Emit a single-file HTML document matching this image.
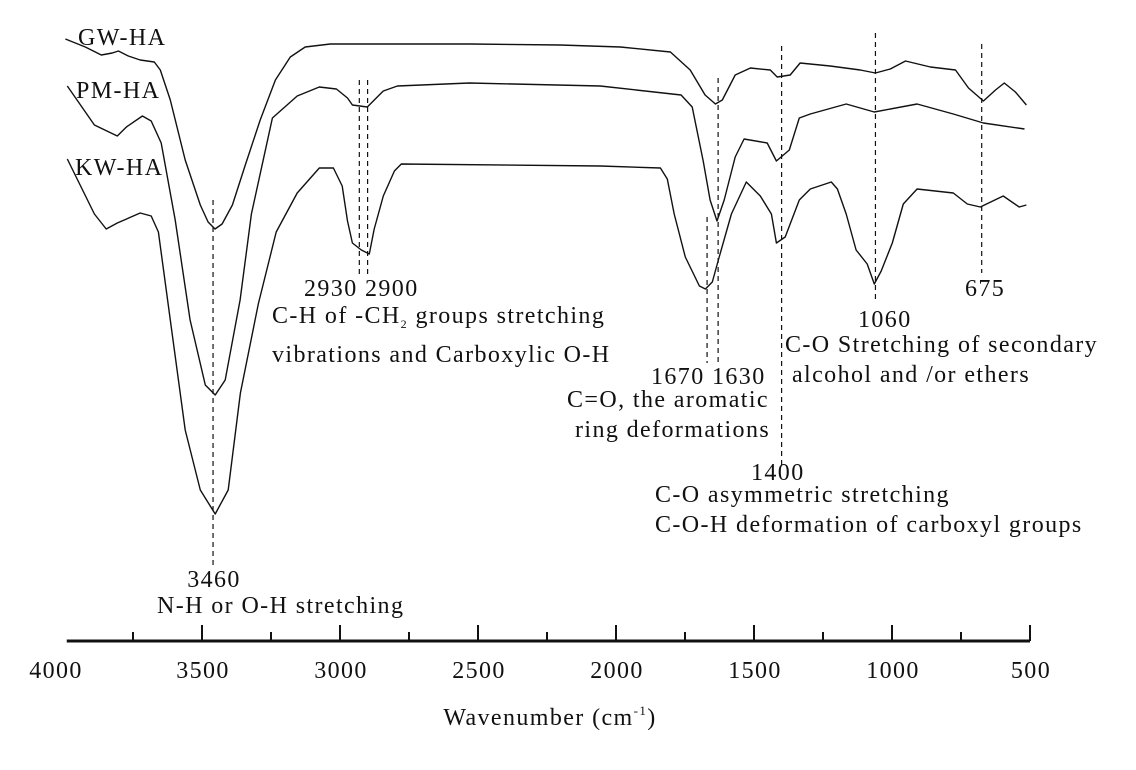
<!DOCTYPE html>
<html><head><meta charset="utf-8">
<style>
html,body{margin:0;padding:0;background:#fff;}
svg{display:block;}
text{font-family:"Liberation Serif",serif;font-size:24px;letter-spacing:1.4px;fill:#111;}
</style></head>
<body>
<svg id="chart" width="1136" height="770" viewBox="0 0 1136 770" xmlns="http://www.w3.org/2000/svg">
<g id="series"></g>
<g id="peaks"></g>
<g id="axis"></g>
<g>
<text x="78" y="45">GW-HA</text>
<text x="76" y="98">PM-HA</text>
<text x="75" y="175">KW-HA</text>
<text x="214" y="587" text-anchor="middle">3460</text>
<text x="157" y="613">N-H or O-H stretching</text>
<text x="304" y="296">2930 2900</text>
<text x="272" y="323">C-H of -CH<tspan font-size="12" dy="5">2</tspan><tspan dy="-5"> groups stretching</tspan></text>
<text x="272" y="362">vibrations and Carboxylic O-H</text>
<text x="651" y="384">1670 1630</text>
<text x="567" y="407">C=O, the aromatic</text>
<text x="575" y="437">ring deformations</text>
<text x="751" y="480">1400</text>
<text x="655" y="502">C-O asymmetric stretching</text>
<text x="655" y="532">C-O-H deformation of carboxyl groups</text>
<text x="858" y="327">1060</text>
<text x="785" y="352">C-O Stretching of  secondary</text>
<text x="792" y="382">alcohol and /or ethers</text>
<text x="965" y="296">675</text>
<text x="550" y="725" text-anchor="middle">Wavenumber (cm<tspan font-size="13" dy="-10">-1</tspan><tspan dy="10">)</tspan></text>
</g>
</svg>
<script>
const gwWave=[3995,3923,3865,3825,3803,3767,3724,3673,3651,3615,3561,3506,3478,3453,3427,3390,3343,3289,3234,3180,3126,3035,2781,2528,2202,1984,1803,1731,1677,1640,1615,1568,1513,1441,1416,1369,1333,1224,1115,1060,1006,951,861,770,723,669,625,593,553,513];
const gwVal=[601,593,585,587,589,584,580,578,570,540,480,435,418,411,416,435,475,520,560,583,593,596,596,596,595,593,588,570,545,536,540,565,572,570,563,565,577,574,570,567,571,579,573,570,552,539,550,557,548,535];
const pmWave=[3988,3890,3807,3774,3716,3684,3648,3597,3543,3488,3452,3416,3362,3321,3245,3155,3075,3013,2973,2955,2901,2883,2843,2792,2531,2057,1764,1724,1684,1659,1634,1608,1568,1536,1452,1419,1372,1336,1296,1166,1064,909,778,669,520];
const pmVal=[554,515,504,513,524,519,497,420,320,255,245,260,340,426,522,544,553,551,542,535,533,538,549,554,557,554,545,533,479,440,419,440,483,501,497,479,490,522,526,536,528,536,526,517,511];
const kwWave=[3988,3890,3847,3807,3724,3684,3658,3615,3561,3506,3452,3405,3361,3296,3231,3155,3075,3024,2992,2973,2955,2923,2894,2876,2843,2803,2778,2057,1839,1814,1789,1749,1698,1676,1651,1626,1582,1528,1477,1437,1419,1387,1336,1296,1220,1198,1166,1130,1090,1064,1039,999,959,909,778,727,680,597,539,513];
const kwVal=[481,426,411,417,427,424,408,320,210,150,126,150,247,336,408,447,472,472,454,419,397,390,386,411,444,469,476,474,472,461,426,383,354,351,358,383,426,458,444,426,397,403,440,451,458,451,426,390,376,356,369,397,436,451,447,436,433,444,433,435];
const tickValues=[4000,3500,3000,2500,2000,1500,1000,500];
const tickLabels=["4000","3500","3000","2500","2000","1500","1000","500"];
const minorTicks=[3750,3250,2750,2250,1750,1250,750];
const peakWave=[3460,2930,2900,1670,1630,1400,1060,675];
const peakTop=[440,560,560,423,562,594,607,596];
const peakBottom=[75,363,363,277,277,175,340,367];

const NS="http://www.w3.org/2000/svg";
function xs(w){return 64+(4000-w)*0.276;}
function ys(v){return 640-v;}
function mk(tag,attrs,parent){const e=document.createElementNS(NS,tag);for(const k in attrs)e.setAttribute(k,attrs[k]);parent.appendChild(e);return e;}

const sg=document.getElementById('series');
[[gwWave,gwVal,'gw-ha-spectrum'],[pmWave,pmVal,'pm-ha-spectrum'],[kwWave,kwVal,'kw-ha-spectrum']].forEach(s=>{
  const d=s[0].map((w,i)=>(i?'L':'M')+xs(w).toFixed(1)+' '+ys(s[1][i]).toFixed(1)).join(' ');
  const p=mk('path',{d:d,fill:'none',stroke:'#111','stroke-width':'1.4','stroke-linejoin':'round'},sg);
  
  
});

const pg=document.getElementById('peaks');
peakWave.forEach((w,i)=>{
  const l=mk('line',{x1:xs(w),x2:xs(w),y1:ys(peakTop[i]),y2:ys(peakBottom[i]),stroke:'#111','stroke-width':'1.2','stroke-dasharray':'5,4'},pg);
  
  
});

const ag=document.getElementById('axis');
const al=mk('line',{x1:xs(3990),x2:xs(500),y1:641,y2:641,stroke:'#111','stroke-width':'3'},ag);


tickValues.forEach((v,i)=>{
  if(v<4000){
    const t=mk('line',{x1:xs(v),x2:xs(v),y1:641,y2:625,stroke:'#111','stroke-width':'2'},ag);
    
    
  }
  const tx=mk('text',{x:xs(v)+(v===4000?-8:1),y:678,'text-anchor':'middle'},ag);
  tx.textContent=tickLabels[i];
  
  
});
minorTicks.forEach(v=>{
  const t=mk('line',{x1:xs(v),x2:xs(v),y1:641,y2:632,stroke:'#111','stroke-width':'2'},ag);
  
  
});
</script>
</body></html>
